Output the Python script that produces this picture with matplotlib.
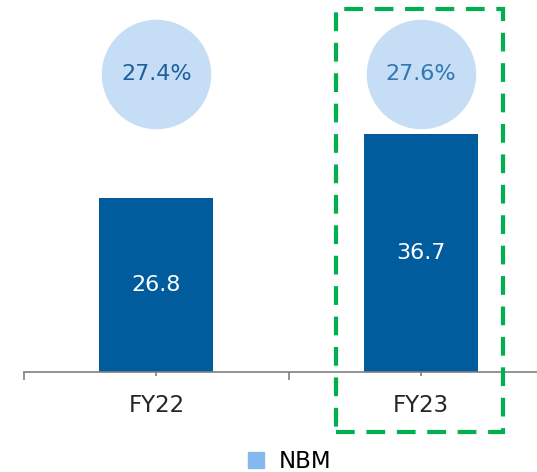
import matplotlib.pyplot as plt
from matplotlib.patches import Rectangle
from matplotlib.lines import Line2D

plt.rcParams['font.family'] = ['DejaVu Sans']

# data
years = ['FY22', 'FY23']
nbm = [26.8, 36.7]
share_labels = ['27.4%', '27.6%']
share_text_colors = ['#1D5F9E', '#3276B4']

bar_color = '#005C9D'
circle_color = '#C5DDF5'
legend_color = '#85B8EE'
axis_color = '#7F7F7F'

fig = plt.figure(figsize=(5.37, 4.72), dpi=100)
ax = fig.add_axes([24 / 537, 100 / 472, 1 - 24 / 537, 372 / 472])

x = range(len(years))
ax.bar(x, nbm, width=0.43, color=bar_color, zorder=2)
for i, v in zip(x, nbm):
    ax.text(i, v / 2, f"{v:.1f}", color='white', fontsize=16,
            ha='center', va='center')

# circles with share values, all at the same height
circle_y = 45.9
ax.scatter(list(x), [circle_y] * len(years), s=6050, color=circle_color,
           zorder=1, clip_on=False)
for i, lab, c in zip(x, share_labels, share_text_colors):
    ax.text(i, circle_y, lab, color=c, fontsize=16, ha='center', va='center')

for s in ['top', 'right', 'left']:
    ax.spines[s].set_visible(False)
ax.spines['bottom'].set_color(axis_color)
ax.spines['bottom'].set_linewidth(1.2)
ax.set_yticks([])
ax.set_xticks(list(x))
ax.set_xticklabels(years, fontsize=16.5, color='#262626')
ax.set_xticks([-0.5, 0.5], minor=True)
ax.tick_params(axis='x', which='major', length=3, width=1.2,
               color=axis_color, pad=13)
ax.tick_params(axis='x', which='minor', length=6, width=1.2,
               color=axis_color)

# limits after ticks, so set_xticks does not widen them
ax.set_xlim(-0.5, 1.438)
ax.set_ylim(0, 57.3)

# highlight box around FY23
box = Rectangle((336 / 537, 1 - 432 / 472), (503 - 336) / 537,
                (432 - 9) / 472, transform=fig.transFigure, fill=False,
                edgecolor='#00B050', linewidth=3, linestyle=(0, (4.5, 2.8)))
fig.add_artist(box)

handle = Line2D([], [], marker='s', linestyle='none', markersize=11,
                color=legend_color)
fig.legend([handle], ['NBM'], loc='center', bbox_to_anchor=(0.539, 10 / 472),
           frameon=False, fontsize=16.5, handlelength=0.8, handletextpad=0.6)

fig.savefig('out.png', dpi=100)
